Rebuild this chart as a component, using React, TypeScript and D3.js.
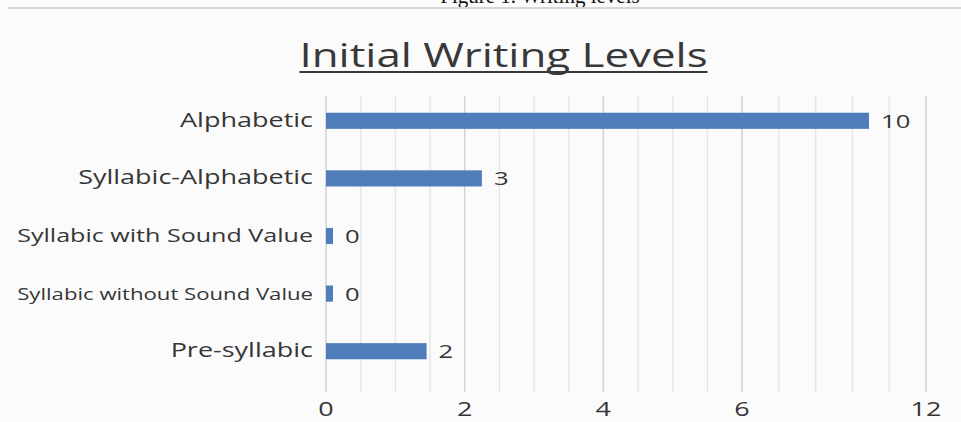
import { useEffect, useRef } from 'react';
import * as d3 from 'd3';

const categories = [
  'Alphabetic',
  'Syllabic-Alphabetic',
  'Syllabic with Sound Value',
  'Syllabic without Sound Value',
  'Pre-syllabic',
];
const values = [10, 3, 0, 0, 2];
const tickLabels = ['0', '2', '4', '6', '12'];
const tickSteps = [0, 4, 8, 12, 17];

const W = 961;
const H = 422;
const FONT = '"Open Sans", "Noto Sans", sans-serif';
const STRETCH = 1.35; // the source picture is stretched horizontally

export default function App() {
  const svgRef = useRef<SVGSVGElement>(null);

  useEffect(() => {
    if (!svgRef.current) return;
    const svg = d3.select(svgRef.current);
    svg.selectAll('*').remove();

    svg.append('rect').attr('width', W).attr('height', H).attr('fill', '#fbfbfb');

    // caption cut off at the top of the page
    svg.append('text')
      .attr('x', 540).attr('y', 3)
      .attr('text-anchor', 'middle')
      .attr('font-family', '"Liberation Serif", serif')
      .attr('font-size', 21)
      .attr('fill', '#111')
      .text('Figure 1. Writing levels');
    svg.append('line')
      .attr('x1', 8).attr('x2', W).attr('y1', 8).attr('y2', 8)
      .attr('stroke', '#d6d6d6').attr('stroke-width', 2);

    const x0 = 326;
    const grid = d3.scaleLinear().domain([0, 12, 17]).range([x0, 742, 926]);
    const xBar = d3.scaleLinear().domain([0, 10]).range([316, 869]);
    const y = d3.scaleBand<string>()
      .domain(categories)
      .range([92, 380])
      .paddingInner(0.72)
      .paddingOuter(0.36);

    // gridlines
    svg.append('g')
      .selectAll('line')
      .data(d3.range(0, 18))
      .join('line')
      .attr('x1', d => grid(d)).attr('x2', d => grid(d))
      .attr('y1', 96).attr('y2', 392)
      .attr('stroke', d => (tickSteps.includes(d) ? '#d2d2d2' : '#e6e6e6'))
      .attr('stroke-width', 1.5);

    const stretchText = (
      sel: d3.Selection<SVGTextElement, any, any, any>,
      x: number,
      yy: number,
      maxW = Infinity
    ) => {
      const node = sel.node()!;
      const w = node.getComputedTextLength() * STRETCH;
      const k = w > maxW ? maxW / w : 1;
      sel.attr('transform', `translate(${x},${yy}) scale(${STRETCH * k},${k})`);
    };

    // title
    const title = svg.append('text')
      .attr('text-anchor', 'middle')
      .attr('font-family', FONT)
      .attr('font-size', 32.5)
      .attr('fill', '#383838')
      .text('Initial Writing Levels');
    stretchText(title, 503.5, 67);
    const tw = title.node()!.getComputedTextLength() * STRETCH;
    svg.append('line')
      .attr('x1', 503.5 - tw / 2).attr('x2', 503.5 + tw / 2)
      .attr('y1', 72).attr('y2', 72)
      .attr('stroke', '#383838').attr('stroke-width', 2);

    const rows = categories.map((c, i) => ({ c, v: values[i] }));

    // bars
    svg.append('g')
      .selectAll('rect')
      .data(rows)
      .join('rect')
      .attr('x', x0)
      .attr('y', d => y(d.c)!)
      .attr('width', d => Math.max(7, xBar(d.v) - x0))
      .attr('height', y.bandwidth())
      .attr('fill', '#4e7dba');

    // category labels
    rows.forEach(d => {
      const t = svg.append('text')
        .attr('text-anchor', 'end')
        .attr('font-family', FONT)
        .attr('font-size', 20)
        .attr('fill', '#363636')
        .text(d.c);
      stretchText(t, 313, y(d.c)! + y.bandwidth() / 2 + 6, 296);
    });

    // value labels
    rows.forEach(d => {
      const t = svg.append('text')
        .attr('font-family', FONT)
        .attr('font-size', 19)
        .attr('fill', '#363636')
        .text(String(d.v));
      stretchText(t, Math.max(x0 + 7, xBar(d.v)) + 12, y(d.c)! + y.bandwidth() / 2 + 7);
    });

    // x tick labels
    tickSteps.forEach((s, i) => {
      const t = svg.append('text')
        .attr('text-anchor', 'middle')
        .attr('font-family', FONT)
        .attr('font-size', 20)
        .attr('fill', '#363636')
        .text(tickLabels[i]);
      stretchText(t, grid(s), 416);
    });
  }, []);

  return (
    <svg
      ref={svgRef}
      width={W}
      height={H}
      style={{ position: 'absolute', left: 0, top: 0 }}
    />
  );
}
